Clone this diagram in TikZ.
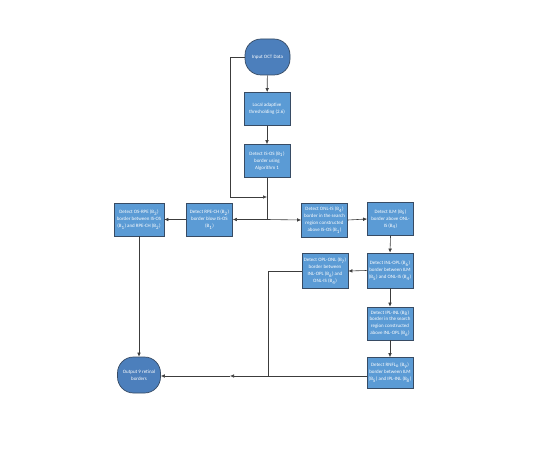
\documentclass[tikz,border=0pt]{standalone}
\usepackage{fontspec}
\setmainfont{Carlito}
\usetikzlibrary{arrows.meta}
\definecolor{boxfill}{RGB}{91,155,213}
\definecolor{boxline}{RGB}{55,75,100}
\definecolor{termfill}{RGB}{76,127,188}
\definecolor{conn}{RGB}{60,60,60}
\tikzset{
  stepbox/.style={draw=boxline, line width=0.7bp, fill=boxfill, text=white,
    minimum width=46bp, minimum height=33bp, inner sep=1bp, align=center,
    font=\fontsize{5}{7}\selectfont},
  term/.style={draw=boxline, line width=0.7bp, fill=termfill, text=white,
    minimum width=45bp, minimum height=36bp, rounded corners=16bp, inner sep=1bp, align=center,
    font=\fontsize{5}{7}\selectfont},
  conn/.style={draw=conn, line width=0.6bp},
  arr/.style={conn, -{Latex[length=4bp,width=3.6bp]}}
}
\begin{document}
\begin{tikzpicture}[x=1bp,y=-1bp]
\useasboundingbox (0,0) rectangle (538,473);
\node[term] (input) at (267.5,57) {Input OCT Data};
\node[stepbox] (local) at (267,109) {Local adaptive\\thresholding (2.6)};
\node[stepbox] (isos) at (267,161) {Detect IS-OS (B\textsubscript{1})\\border using\\Algorithm 1};
\node[stepbox] (rpech) at (209.5,219.5) {Detect RPE-CH (B\textsubscript{2})\\border blow IS-OS\\(B\textsubscript{1})};
\node[stepbox, minimum width=50bp] (osrpe) at (139,219.5) {Detect OS-RPE (B\textsubscript{3})\\border between IS-OS\\(B\textsubscript{1}) and RPE-CH (B\textsubscript{2})};
\node[stepbox, minimum height=34bp] (onlis) at (324.5,220) {Detect ONL-IS (B\textsubscript{4})\\border in the search\\region constructed\\above IS-OS (B\textsubscript{1})};
\node[stepbox] (ilm) at (390.5,219) {Detect ILM (B\textsubscript{5})\\border above ONL-\\IS (B\textsubscript{4})};
\node[stepbox, minimum height=35bp] (inlopl) at (390,270.5) {Detect INL-OPL (B\textsubscript{6})\\border between ILM\\(B\textsubscript{5}) and ONL-IS (B\textsubscript{4})};
\node[stepbox, minimum height=35bp] (oplonl) at (325,271) {Detect OPL-ONL (B\textsubscript{7})\\border between\\INL-OPL (B\textsubscript{6}) and\\ONL-IS (B\textsubscript{4})};
\node[stepbox] (iplinl) at (390,323.5) {Detect IPL-INL (B\textsubscript{8})\\border in the search\\region constructed\\above INL-OPL (B\textsubscript{6})};
\node[stepbox, minimum height=31bp] (rnfl) at (390,373) {Detect RNFL\textsubscript{o} (B\textsubscript{9})\\border between ILM\\(B\textsubscript{5}) and IPL-INL (B\textsubscript{8})};
\node[term, minimum width=43bp] (output) at (139,375) {Output 9 retinal\\borders};
\coordinate (j1) at (267,197);
\coordinate (j2) at (267,219.5);
\coordinate (m) at (230,376);
\coordinate (ob) at (268,376);
\draw[arr] (input) -- (local);
\draw[arr] (local) -- (isos);
\draw[arr] (input.west) -- (230,57) -- (230,197) -- (j1);
\draw[conn] (isos.south) -- (j2);
\draw[arr] (j2) -- (rpech.east);
\draw[arr] (j2) -- (onlis.west);
\draw[arr] (rpech.west) -- (osrpe.east);
\draw[arr] (osrpe.south) -- (output.north);
\draw[arr] (onlis.east) -- (ilm.west);
\draw[arr] (ilm.south) -- (inlopl.north);
\draw[arr] (inlopl.west) -- (oplonl.east);
\draw[arr] (inlopl.south) -- (iplinl.north);
\draw[arr] (iplinl.south) -- (rnfl.north);
\draw[arr] (rnfl.west |- m) -- (m);
\draw[arr] (m) -- (output.east |- m);
\draw[conn] (oplonl.west) -- (oplonl.west -| ob) -- (ob);
\end{tikzpicture}
\end{document}
